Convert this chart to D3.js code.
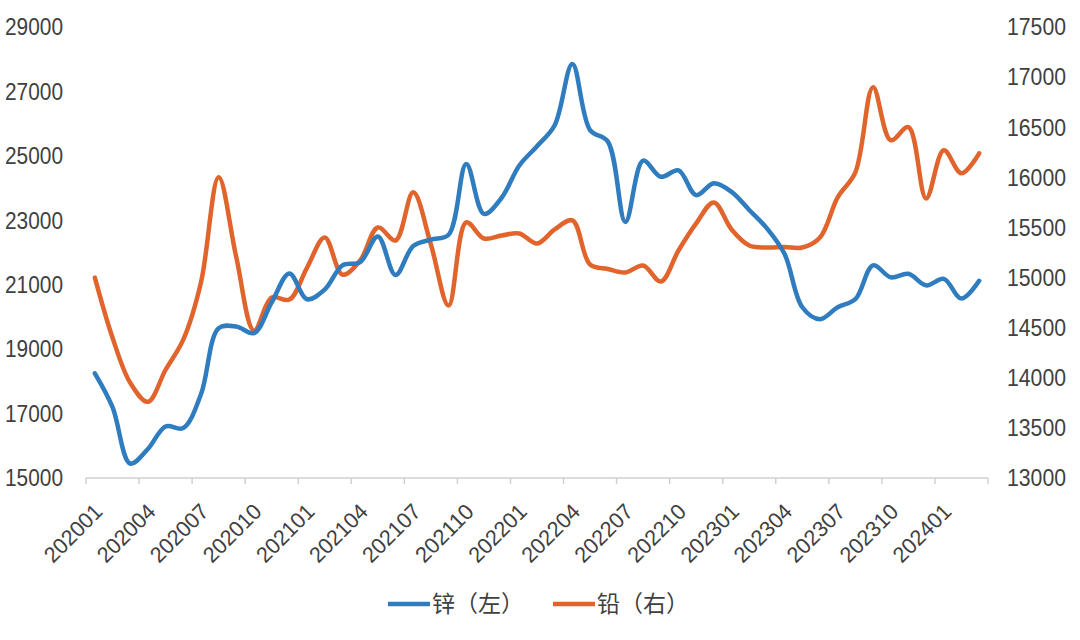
<!DOCTYPE html>
<html>
<head>
<meta charset="utf-8">
<script src="https://cdn.jsdelivr.net/npm/d3@7"></script>
<style>
  body { margin: 0; background: #fff; }
  svg text { font-family: "Liberation Sans", Arial, sans-serif; fill: #404040; }
  .legend text { font-family: "Noto Sans CJK SC", sans-serif; }
</style>
</head>
<body>
<div id="chart"></div>
<script>
// Monthly categories 202001 .. 202403
const months = [];
for (let y = 2020; y <= 2024; y++) {
    for (let m = 1; m <= 12; m++) {
        if (y === 2024 && m > 3) break;
        months.push(`${y}${String(m).padStart(2, "0")}`);
    }
}

// Zinc (left axis)
const zinc = [18250, 17200, 15450, 15900, 16600, 16550, 17600, 19650, 19700, 19500,
    20450, 21350, 20550, 20850, 21600, 21700, 22500, 21300, 22200, 22400,
    22550, 24750, 23200, 23700, 24700, 25300, 25950, 27850, 25800, 25450,
    22950, 24850, 24350, 24550, 23780, 24150, 23880, 23320, 22750, 21950,
    20300, 19930, 20300, 20550, 21600, 21230, 21340, 20980, 21180, 20570, 21120];

// Lead (right axis)
const lead = [15000, 14400, 13950, 13760, 14080, 14380, 14950, 16000, 15200, 14470,
    14800, 14780, 15100, 15400, 15030, 15170, 15500, 15370, 15850, 15330,
    14720, 15550, 15390, 15420, 15440, 15340, 15480, 15570, 15130, 15085,
    15050, 15120, 14960, 15270, 15540, 15750, 15480, 15320, 15300, 15305,
    15300, 15400, 15800, 16050, 16900, 16370, 16500, 15790, 16270, 16040, 16240];

const leftTicks = [15000, 17000, 19000, 21000, 23000, 25000, 27000, 29000];
const rightTicks = [13000, 13500, 14000, 14500, 15000, 15500, 16000, 16500, 17000, 17500];

const seriesNames = ["锌（左）", "铅（右）"];
const colors = ["#2f7cbf", "#e0642b"];

const W = 1080, H = 640;
const plot = { left: 86, right: 988, top: 27, bottom: 478 };

const svg = d3.select("#chart").append("svg")
    .attr("width", W)
    .attr("height", H);

const x = d3.scaleBand()
    .domain(months)
    .range([plot.left, plot.right])
    .padding(0);

const yL = d3.scaleLinear().domain([15000, 29000]).range([plot.bottom, plot.top]);
const yR = d3.scaleLinear().domain([13000, 17500]).range([plot.bottom, plot.top]);

const cx = d => x(d) + x.bandwidth() / 2;

// Left axis labels (narrow digits like the original)
svg.append("g")
    .selectAll("text")
    .data(leftTicks)
    .enter()
    .append("text")
    .attr("x", 63)
    .attr("y", d => yL(d))
    .attr("dy", "0.36em")
    .attr("text-anchor", "end")
    .attr("textLength", 58)
    .attr("lengthAdjust", "spacingAndGlyphs")
    .style("font-size", "23px")
    .text(d => d);

// Right axis labels
svg.append("g")
    .selectAll("text")
    .data(rightTicks)
    .enter()
    .append("text")
    .attr("x", 1007)
    .attr("y", d => yR(d))
    .attr("dy", "0.36em")
    .attr("text-anchor", "start")
    .attr("textLength", 59)
    .attr("lengthAdjust", "spacingAndGlyphs")
    .style("font-size", "23px")
    .text(d => d);

// X axis line and tick marks (every 3 categories, on boundaries)
const xAxis = svg.append("g");
xAxis.append("line")
    .attr("x1", plot.left).attr("x2", plot.right)
    .attr("y1", plot.bottom).attr("y2", plot.bottom)
    .attr("stroke", "#d0d0d0")
    .attr("stroke-width", 1.5);

const tickPos = months.filter((d, i) => i % 3 === 0).map(d => x(d)).concat([plot.right]);
xAxis.selectAll(".tick")
    .data(tickPos)
    .enter()
    .append("line")
    .attr("x1", d => d).attr("x2", d => d)
    .attr("y1", plot.bottom).attr("y2", plot.bottom + 6)
    .attr("stroke", "#d0d0d0")
    .attr("stroke-width", 1.5);

// X labels, rotated
xAxis.selectAll(".lbl")
    .data(months.filter((d, i) => i % 3 === 0))
    .enter()
    .append("text")
    .attr("transform", d => `translate(${cx(d) + 9},${plot.bottom + 35}) rotate(-45)`)
    .attr("text-anchor", "end")
    .attr("textLength", 72)
    .attr("lengthAdjust", "spacingAndGlyphs")
    .style("font-size", "22px")
    .text(d => d);

// Lines
const lineL = d3.line()
    .x((d, i) => cx(months[i]))
    .y(d => yL(d))
    .curve(d3.curveCatmullRom.alpha(0.5));

const lineR = d3.line()
    .x((d, i) => cx(months[i]))
    .y(d => yR(d))
    .curve(d3.curveCatmullRom.alpha(0.5));

svg.append("path")
    .datum(lead)
    .attr("fill", "none")
    .attr("stroke", colors[1])
    .attr("stroke-width", 4.5)
    .attr("stroke-linejoin", "round")
    .attr("stroke-linecap", "round")
    .attr("d", lineR);

svg.append("path")
    .datum(zinc)
    .attr("fill", "none")
    .attr("stroke", colors[0])
    .attr("stroke-width", 4.5)
    .attr("stroke-linejoin", "round")
    .attr("stroke-linecap", "round")
    .attr("d", lineL);

// Legend
const legend = svg.append("g").attr("class", "legend");
const legendX = [388, 553];
seriesNames.forEach((name, i) => {
    legend.append("line")
        .attr("x1", legendX[i]).attr("x2", legendX[i] + 42)
        .attr("y1", 604).attr("y2", 604)
        .attr("stroke", colors[i])
        .attr("stroke-width", 4.5);
    legend.append("text")
        .attr("x", legendX[i] + 44)
        .attr("y", 604)
        .attr("dy", "0.35em")
        .style("font-size", "23px")
        .text(name);
});
</script>
</body>
</html>
